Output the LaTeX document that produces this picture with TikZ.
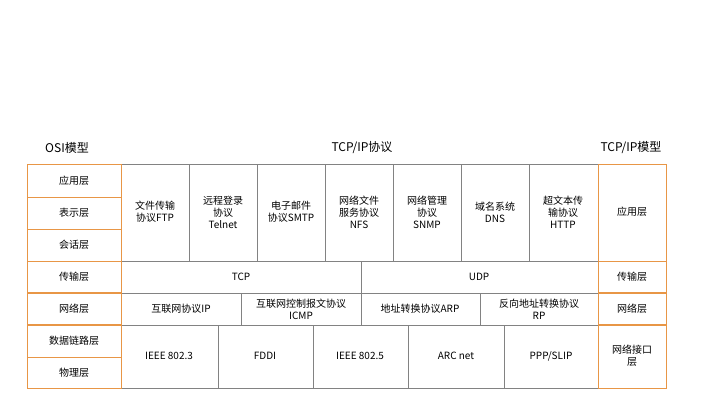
\documentclass[tikz,border=0pt]{standalone}
\usepackage{fontspec}
\setmainfont{Noto Sans CJK SC}
\definecolor{org}{RGB}{232,150,70}
\definecolor{gr}{RGB}{130,130,130}
\begin{document}
\begin{tikzpicture}[x=1pt,y=-1pt,
  lbl/.style={font=\fontsize{10}{12}\selectfont,align=center,inner sep=0},
  ttl/.style={font=\fontsize{12}{14}\selectfont,inner sep=0}]
\useasboundingbox (0,0) rectangle (720,405);
% gray grid
\begin{scope}[draw=gr,line width=0.8pt]
\draw (121,164) rectangle (598,388);
\foreach \x in {189,257,325,393,461,529} \draw (\x,164)--(\x,261);
\draw (121,261)--(598,261); \draw (121,293)--(598,293); \draw (121,325)--(598,325);
\draw (361,261)--(361,293);
\foreach \x in {241,361,480} \draw (\x,293)--(\x,325);
\foreach \x in {218,313,408,504} \draw (\x,325)--(\x,388);
\end{scope}
% orange columns
\begin{scope}[draw=org,line width=0.8pt]
\draw (27,164) rectangle (121,388);
\foreach \y in {197,229,261,357} \draw (27,\y)--(121,\y);
\draw (598,164) rectangle (666,388);
\draw (598,261)--(666,261);
\draw[line width=1.6pt] (27,293)--(121,293); \draw[line width=1.6pt] (27,325)--(121,325);
\draw[line width=1.6pt] (598,293)--(666,293); \draw[line width=1.6pt] (598,325)--(666,325);
\end{scope}
% titles
\node[ttl] (t1) at (67,148) {OSI模型};
\node[ttl] (t2) at (362,148) {TCP/IP协议};
\node[ttl] (t3) at (631,148) {TCP/IP模型};
% left labels
\node[lbl] (l1) at (74,181) {应用层};
\node[lbl] (l2) at (74,213) {表示层};
\node[lbl] (l3) at (74,245) {会话层};
\node[lbl] (l4) at (74,277) {传输层};
\node[lbl] (l5) at (74,309) {网络层};
\node[lbl] (l6) at (74,341) {数据链路层};
\node[lbl] (l7) at (74,373) {物理层};
% app protocols
\node[lbl] (a1) at (155,212) {文件传输\\协议FTP};
\node[lbl] (a2) at (223,212) {远程登录\\协议\\Telnet};
\node[lbl] (a3) at (291,212) {电子邮件\\协议SMTP};
\node[lbl] (a4) at (359,212) {网络文件\\服务协议\\NFS};
\node[lbl] (a5) at (427,212) {网络管理\\协议\\SNMP};
\node[lbl] (a6) at (495,212) {域名系统\\DNS};
\node[lbl] (a7) at (563,212) {超文本传\\输协议\\HTTP};
\node[lbl] (tcp) at (241,277) {TCP};
\node[lbl] (udp) at (479,277) {UDP};
\node[lbl] (n1) at (181,309) {互联网协议IP};
\node[lbl] (n2) at (301,309) {互联网控制报文协议\\ICMP};
\node[lbl] (n3) at (420,309) {地址转换协议ARP};
\node[lbl] (n4) at (539,309) {反向地址转换协议\\RP};
\node[lbl] (p1) at (169,356) {IEEE 802.3};
\node[lbl] (p2) at (265,356) {FDDI};
\node[lbl] (p3) at (360,356) {IEEE 802.5};
\node[lbl] (p4) at (456,356) {ARC net};
\node[lbl] (p5) at (551,356) {PPP/SLIP};
% right
\node[lbl] (r1) at (632,212) {应用层};
\node[lbl] (r2) at (632,277) {传输层};
\node[lbl] (r3) at (632,309) {网络层};
\node[lbl] (r4) at (632,356) {网络接口\\层};
\end{tikzpicture}
\end{document}
